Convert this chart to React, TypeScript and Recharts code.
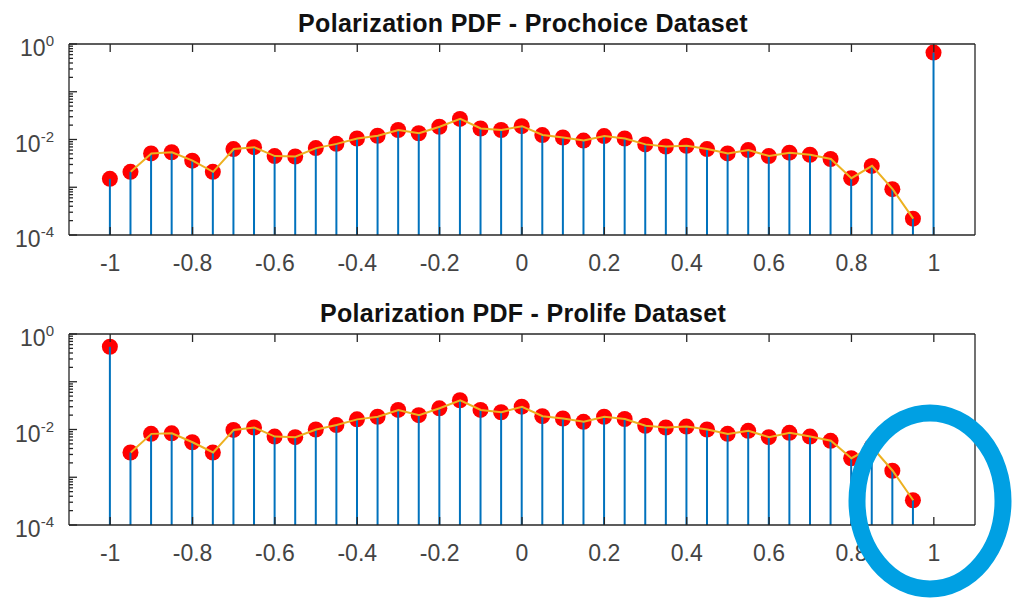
import { ComposedChart, Bar, Line, XAxis, YAxis } from 'recharts';

// bin centres of the polarization histogram
const xValues = [
  -1, -0.95, -0.9, -0.85, -0.8, -0.75, -0.7, -0.65, -0.6, -0.55, -0.5,
  -0.45, -0.4, -0.35, -0.3, -0.25, -0.2, -0.15, -0.1, -0.05, 0,
  0.05, 0.1, 0.15, 0.2, 0.25, 0.3, 0.35, 0.4, 0.45, 0.5,
  0.55, 0.6, 0.65, 0.7, 0.75, 0.8, 0.85, 0.9, 0.95, 1,
];

const prochoicePdf = [
  1.5e-3, 2.1e-3, 5.1e-3, 5.4e-3, 3.6e-3, 2.1e-3, 6.3e-3, 6.9e-3, 4.5e-3, 4.4e-3, 6.6e-3,
  8.1e-3, 1.05e-2, 1.2e-2, 1.58e-2, 1.35e-2, 1.85e-2, 2.7e-2, 1.7e-2, 1.58e-2, 1.9e-2,
  1.24e-2, 1.1e-2, 9.5e-3, 1.18e-2, 1.05e-2, 7.9e-3, 7.1e-3, 7.4e-3, 6.3e-3, 5.1e-3,
  6.0e-3, 4.5e-3, 5.3e-3, 4.8e-3, 3.9e-3, 1.55e-3, 2.8e-3, 9.1e-4, 2.2e-4, 0.66,
];

const prolifePdf = [
  0.54, 3.3e-3, 8.1e-3, 8.3e-3, 5.4e-3, 3.3e-3, 9.8e-3, 1.1e-2, 7.1e-3, 6.9e-3, 1.0e-2,
  1.24e-2, 1.63e-2, 1.85e-2, 2.57e-2, 2.0e-2, 2.78e-2, 4.1e-2, 2.57e-2, 2.3e-2, 3.0e-2,
  1.9e-2, 1.7e-2, 1.45e-2, 1.85e-2, 1.66e-2, 1.2e-2, 1.1e-2, 1.15e-2, 1.0e-2, 8.1e-3,
  9.4e-3, 6.9e-3, 8.5e-3, 7.1e-3, 5.8e-3, 2.5e-3, 4.3e-3, 1.37e-3, 3.3e-4, null,
];

const xTicks = [-1, -0.8, -0.6, -0.4, -0.2, 0, 0.2, 0.4, 0.6, 0.8, 1];
const yLabelTicks = [1e-4, 1e-2, 1];
const decades = [1e-4, 1e-3, 1e-2, 1e-1];
const minorSteps = [2, 3, 4, 5, 6, 7, 8, 9];
const panelTitles = ['Polarization PDF - Prochoice Dataset', 'Polarization PDF - Prolife Dataset'];

const yTicks = [...decades, 1, ...decades.flatMap((d) => minorSteps.map((m) => m * d))];

const AXIS = '#262626';
const LABEL = '#444';
const STEM = '#0072BD';
const CURVE = '#EDB120';
const MARKER = '#FF0000';
const FONT = '"Liberation Sans", Arial, Helvetica, sans-serif';

const W = 1012;
const H = 300;

function BottomTick({ x, y, payload }: any) {
  return (
    <g>
      <line x1={x} y1={y} x2={x} y2={y - 8} stroke={AXIS} strokeWidth={1.3} />
      <text x={x} y={y + 36} textAnchor="middle" fontSize={23} fill={LABEL} fontFamily={FONT}>
        {String(payload.value)}
      </text>
    </g>
  );
}

function TopTick({ x, y }: any) {
  return <line x1={x} y1={y} x2={x} y2={y + 8} stroke={AXIS} strokeWidth={1.3} />;
}

const isDecade = (v: number) => v === 1 || decades.includes(v);

function LeftTick({ x, y, payload }: any) {
  const v = payload.value;
  const len = isDecade(v) ? 8 : 4;
  const labelled = yLabelTicks.includes(v);
  return (
    <g>
      <line x1={x} y1={y} x2={x + len} y2={y} stroke={AXIS} strokeWidth={1.3} />
      {labelled && (
        <text x={x - 15} y={y + 12} textAnchor="end" fontSize={23} fill={LABEL} fontFamily={FONT}>
          <tspan>10</tspan>
          <tspan dy={-10} fontSize={15}>{String(Math.round(Math.log10(v)))}</tspan>
        </text>
      )}
    </g>
  );
}

function RightTick({ x, y, payload }: any) {
  const len = isDecade(payload.value) ? 8 : 4;
  return <line x1={x} y1={y} x2={x - len} y2={y} stroke={AXIS} strokeWidth={1.3} />;
}

// stem plot mark: filled marker at the value, stem drawn over it down to the baseline
function StemMarker({ x, y, width, height }: any) {
  if (height == null || Number.isNaN(y)) return null;
  const cx = x + width / 2;
  return (
    <g>
      <circle cx={cx} cy={y} r={8} fill={MARKER} />
      <line x1={cx} y1={y} x2={cx} y2={y + height} stroke={STEM} strokeWidth={2} />
    </g>
  );
}

function PdfPanel({ values }: { values: (number | null)[] }) {
  const rows = xValues.map((x, i) => ({
    x,
    pdf: values[i],
    // fitted curve skips the two extreme bins
    curve: i > 0 && i < xValues.length - 1 ? values[i] : null,
  }));
  const axisLine = { stroke: AXIS, strokeWidth: 1.3 };

  return (
    <ComposedChart width={W} height={H} data={rows} margin={{ top: 43, right: 36, bottom: 64, left: 68 }}>
      <XAxis
        xAxisId="b"
        dataKey="x"
        type="number"
        domain={[-1.1, 1.1]}
        ticks={xTicks}
        interval={0}
        height={1}
        tickSize={0}
        tickMargin={0}
        tickLine={false}
        tick={<BottomTick />}
        axisLine={axisLine}
      />
      <XAxis
        xAxisId="t"
        orientation="top"
        dataKey="x"
        type="number"
        domain={[-1.1, 1.1]}
        ticks={xTicks}
        interval={0}
        height={1}
        tickSize={0}
        tickMargin={0}
        tickLine={false}
        tick={<TopTick />}
        axisLine={axisLine}
      />
      <YAxis
        yAxisId="l"
        scale="log"
        type="number"
        domain={[1e-4, 1]}
        ticks={yTicks}
        interval={0}
        width={1}
        tickSize={0}
        tickMargin={0}
        tickLine={false}
        tick={<LeftTick />}
        axisLine={axisLine}
      />
      <YAxis
        yAxisId="r"
        orientation="right"
        scale="log"
        type="number"
        domain={[1e-4, 1]}
        ticks={yTicks}
        interval={0}
        width={1}
        tickSize={0}
        tickMargin={0}
        tickLine={false}
        tick={<RightTick />}
        axisLine={axisLine}
      />
      <Bar
        xAxisId="b"
        yAxisId="l"
        dataKey="pdf"
        barSize={2}
        shape={<StemMarker />}
        isAnimationActive={false}
      />
      <Line
        xAxisId="b"
        yAxisId="l"
        dataKey="curve"
        stroke={CURVE}
        strokeWidth={2}
        dot={false}
        activeDot={false}
        isAnimationActive={false}
      />
    </ComposedChart>
  );
}

export default function App() {
  return (
    <div style={{ position: 'absolute', left: 0, top: 0, width: W, height: 600, background: '#fff' }}>
      <div style={{ position: 'absolute', left: 0, top: 0 }}>
        <PdfPanel values={prochoicePdf} />
      </div>
      <div style={{ position: 'absolute', left: 0, top: 290 }}>
        <PdfPanel values={prolifePdf} />
      </div>
      <svg width={W} height={600} style={{ position: 'absolute', left: 0, top: 0, pointerEvents: 'none' }}>
        {panelTitles.map((t, i) => (
          <text
            key={t}
            x={523}
            y={32 + i * 290}
            textAnchor="middle"
            fontSize={25}
            fontWeight="bold"
            letterSpacing={0.3}
            fill="#111"
            fontFamily={FONT}
          >
            {t}
          </text>
        ))}
        <ellipse cx={930} cy={501} rx={73} ry={88} fill="none" stroke="#00A0E3" strokeWidth={17} />
      </svg>
    </div>
  );
}
